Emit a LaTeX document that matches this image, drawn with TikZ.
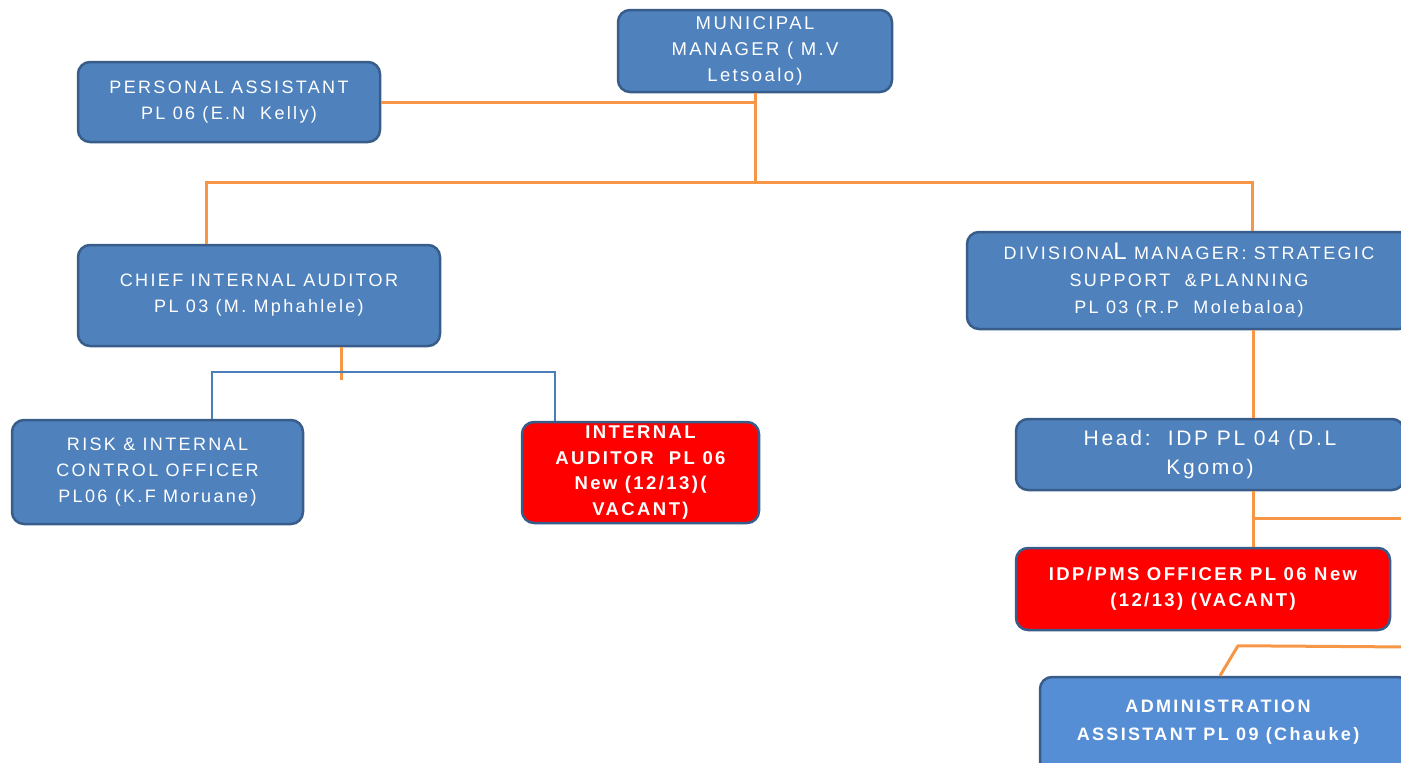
\documentclass[tikz,border=0pt]{standalone}
\usepackage{fontspec}
\setmainfont{Liberation Sans}[LetterSpace=13]
\definecolor{boxblue}{HTML}{4F81BD}
\definecolor{adminblue}{HTML}{558ED5}
\definecolor{boxedge}{HTML}{385D8A}
\definecolor{vacantred}{HTML}{FF0000}
\definecolor{linkorange}{HTML}{F79646}
\definecolor{linkblue}{HTML}{4A7EBB}
\begin{document}
\begin{tikzpicture}[x=1pt,y=-1pt,
  box/.style={draw=boxedge, line width=2.5pt, rounded corners=12pt, fill=boxblue,
    text=white, align=center, inner sep=0pt,
    font=\fontsize{18}{26}\selectfont},
  vacant/.style={box, fill=vacantred, font=\fontsize{18.5}{26}\selectfont\bfseries},
  label/.style={text=white, align=center, inner sep=0pt},
  orangelink/.style={draw=linkorange, line width=3pt},
  bluelink/.style={draw=linkblue, line width=2.8pt},
]
\useasboundingbox (0,0) rectangle (1401,763);
\clip (0,0) rectangle (1401,763);

% posts
\node[box, minimum width=274pt, minimum height=82pt, font=\fontsize{18.5}{26}\selectfont] (mm) at (755,51)
  {MUNICIPAL\\MANAGER ( M.V\\Letsoalo)};
\node[box, minimum width=302pt, minimum height=80pt] (pa) at (229,102)
  {PERSONAL ASSISTANT\\PL 06 (E.N\ \ Kelly)};
\node[box, minimum width=362pt, minimum height=101pt] (cia) at (259,295.5)
  {CHIEF INTERNAL AUDITOR\\PL 03 (M. Mphahlele)};
\node[box, minimum width=444pt, minimum height=97pt, font=\fontsize{18}{27}\selectfont] (dm) at (1189,280.5)
  {DIVISIONA{\fontsize{24}{27}\selectfont L} MANAGER: STRATEGIC\\SUPPORT\ \ \&\,PLANNING\\PL 03 (R.P\ \ Molebaloa)};
\node[box, minimum width=291pt, minimum height=104pt] (risk) at (157.5,472)
  {RISK \& INTERNAL\\CONTROL OFFICER\\PL06 (K.F Moruane)};
\node[vacant, minimum width=237pt, minimum height=101pt, font=\fontsize{18.5}{25.5}\selectfont\bfseries] (ia) at (640.5,472.5)
  {INTERNAL\\AUDITOR\ \ PL 06\\New (12/13)(\\VACANT)};
\node[box, minimum width=388pt, minimum height=71pt, font=\fontsize{21}{29}\selectfont] (head) at (1210,454.5)
  {Head:\ \ IDP PL 04 (D.L\\Kgomo)};
\node[vacant, minimum width=374pt, minimum height=82pt] (pms) at (1203,589)
  {IDP/PMS OFFICER PL 06 New\\(12/13) (VACANT)};
\node[box, fill=adminblue, minimum width=370pt, minimum height=100pt] (admin) at (1225,727) {};
\node[label, font=\fontsize{18}{28}\selectfont\bfseries] (admintext) at (1218,722)
  {ADMINISTRATION\\ASSISTANT PL 09 (Chauke)};

% reporting lines
\coordinate (hub) at (755,182);
\coordinate (cialink) at (341,380);
\coordinate (bar) at (341,372);
\coordinate (headlink) at (1253,518);
\coordinate (rightA) at (1410,518);
\coordinate (rightB) at (1410,647);

\draw[orangelink] (pa.east) -- (pa.east -| mm.south);
\draw[orangelink] (mm.south) -- (hub);
\draw[orangelink] (hub) -| ([xshift=-53pt]cia.north);
\draw[orangelink] (hub) -| ([xshift=63pt]dm.north);
\draw[orangelink] ([xshift=64pt]dm.south) -- ([xshift=43pt]head.north);
\draw[orangelink] ([xshift=43pt]head.south) -- ([xshift=50pt]pms.north);
\draw[orangelink] (headlink) -- (rightA);
\draw[orangelink, line join=round] ([xshift=-5pt]admin.north) -- ++(18,-30) -- (rightB);
\draw[orangelink] ([xshift=82pt]cia.south) -- (cialink);
\draw[bluelink] ([xshift=54.5pt]risk.north) |- (bar) -| ([xshift=-85.5pt]ia.north);
\end{tikzpicture}
\end{document}
